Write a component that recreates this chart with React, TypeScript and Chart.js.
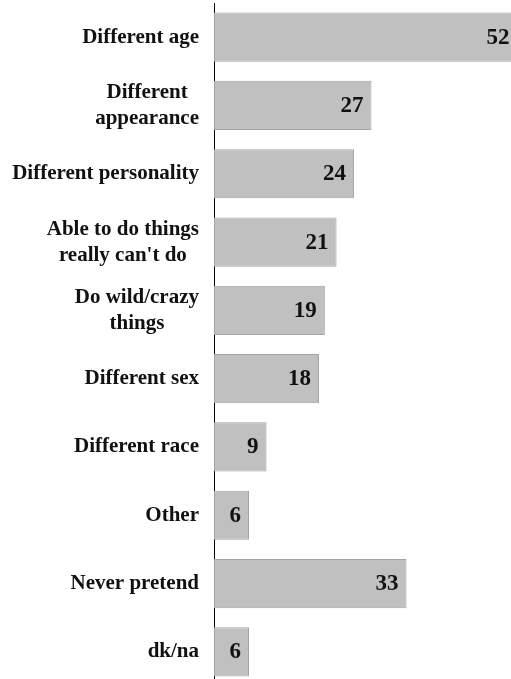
import React, { useEffect, useRef } from "react";
import { Chart, registerables } from "chart.js";

Chart.register(...registerables);

const categories: string[] = [
  "Different age",
  "Different\nappearance",
  "Different personality",
  "Able to do things\nreally can't do",
  "Do wild/crazy\nthings",
  "Different sex",
  "Different race",
  "Other",
  "Never pretend",
  "dk/na",
];

const values: number[] = [52, 27, 24, 21, 19, 18, 9, 6, 33, 6];

const X_MAX = 50.9;
const LABEL_FONT = "bold 21px 'Liberation Serif', serif";
const VALUE_FONT = "bold 23px 'Liberation Serif', serif";
const TEXT_COLOR = "#111111";

const textPlugin = {
  id: "customText",
  afterDatasetsDraw(chart: any) {
    const ctx: CanvasRenderingContext2D = chart.ctx;
    const xs = chart.scales.x;
    const ys = chart.scales.y;
    ctx.save();
    ctx.fillStyle = TEXT_COLOR;
    // category labels: right-aligned block, lines centered within block
    ctx.font = LABEL_FONT;
    ctx.textBaseline = "alphabetic";
    const rightEdge = chart.chartArea.left - 15;
    const lineH = 26;
    categories.forEach((cat, i) => {
      const lines = cat.split("\n");
      const blockW = Math.max(...lines.map((l) => ctx.measureText(l).width));
      const cx = rightEdge - blockW / 2;
      const cy = ys.getPixelForValue(i);
      ctx.textAlign = "center";
      lines.forEach((l, j) => {
        const y = cy + 5.5 + (j - (lines.length - 1) / 2) * lineH;
        ctx.fillText(l, cx, y);
      });
    });
    // value labels inside bar ends
    ctx.font = VALUE_FONT;
    ctx.textAlign = "right";
    values.forEach((v, i) => {
      const x = xs.getPixelForValue(v) - 8;
      const y = ys.getPixelForValue(i) + 6.5;
      ctx.fillText(String(v), x, y);
    });
    ctx.restore();
  },
};

export default function App() {
  const canvasRef = useRef<HTMLCanvasElement | null>(null);

  useEffect(() => {
    if (!canvasRef.current) return;
    const chart = new Chart(canvasRef.current, {
      type: "bar",
      data: {
        labels: categories,
        datasets: [
          {
            data: values,
            backgroundColor: "#c0c0c0",
            borderColor: "#a3a3a3",
            borderWidth: 1,
            borderSkipped: false,
            barPercentage: 0.72,
            categoryPercentage: 1,
          },
        ],
      },
      options: {
        indexAxis: "y",
        animation: false,
        responsive: true,
        maintainAspectRatio: false,
        layout: { padding: { top: 3, left: 0, right: 0, bottom: 0 } },
        plugins: {
          legend: { display: false },
          tooltip: { enabled: false },
        },
        scales: {
          x: {
            display: false,
            min: 0,
            max: X_MAX,
          },
          y: {
            display: true,
            grid: { display: false },
            ticks: { display: false },
            border: { display: true, color: "#000000", width: 1 },
            afterFit: (scale: any) => {
              scale.width = 214;
            },
          },
        },
      },
      plugins: [textPlugin],
    });
    return () => chart.destroy();
  }, []);

  return (
    <div
      style={{
        position: "fixed",
        left: 0,
        top: 0,
        width: 511,
        height: 679,
        overflow: "hidden",
        background: "#ffffff",
      }}
    >
      <div style={{ position: "relative", width: 511, height: 686 }}>
        <canvas ref={canvasRef} />
      </div>
    </div>
  );
}
